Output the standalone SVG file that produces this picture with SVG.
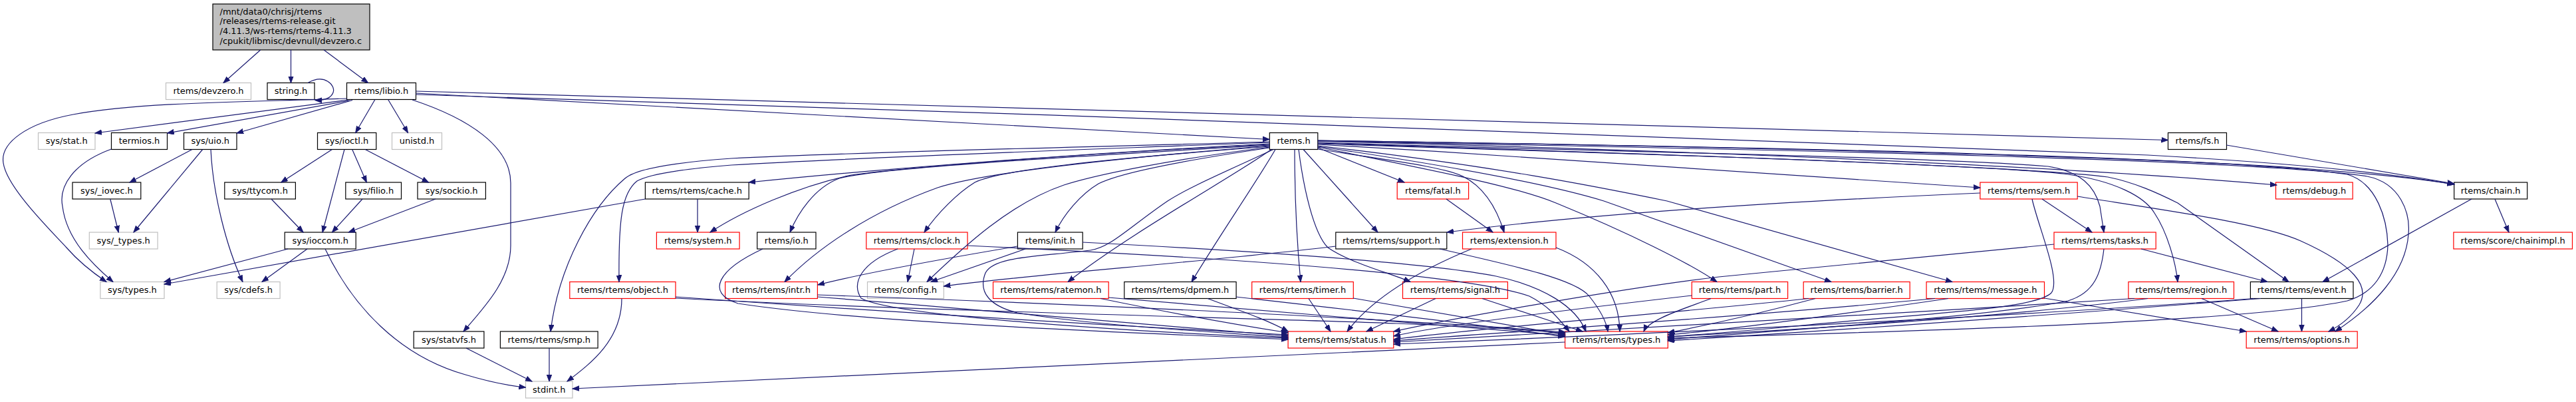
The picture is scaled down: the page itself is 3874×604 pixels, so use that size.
<svg xmlns="http://www.w3.org/2000/svg" width="3874" height="604" viewBox="0 0 3874 604">
<style>
rect{fill:#fff;stroke:#000;stroke-width:1.2}
.g rect{stroke:#bfbfbf}
.r rect{stroke:#ff0000}
.m rect{fill:#bfbfbf}
text{font-family:"DejaVu Sans","Liberation Sans",sans-serif;font-size:13px;fill:#000;text-anchor:middle}
.m text{text-anchor:start}
#edges path{fill:none;stroke:#191970;stroke-width:1.2;marker-end:url(#a)}
</style>
<defs>
<marker id="a" markerWidth="11" markerHeight="9" refX="10" refY="4" orient="auto" markerUnits="userSpaceOnUse"><path d="M0,0.3 L10,4 L0,7.7 z" fill="#191970" stroke="#191970" stroke-width="1"/></marker>
</defs>
<rect x="0" y="0" width="3874" height="604" style="fill:#fff;stroke:none"/>
<g id="nodes">
<g id="n0" class="m"><rect x="320" y="6" width="236" height="69"/><text x="330.5" y="21.5">/mnt/data0/chrisj/rtems</text><text x="330.5" y="36.2">/releases/rtems-release.git</text><text x="330.5" y="50.9">/4.11.3/ws-rtems/rtems-4.11.3</text><text x="330.5" y="65.6">/cpukit/libmisc/devnull/devzero.c</text></g>
<g id="n1" class="g"><rect x="249.5" y="124.5" width="128" height="25"/><text x="313.5" y="141.3">rtems/devzero.h</text></g>
<g id="n2"><rect x="402" y="124.5" width="71" height="25"/><text x="437.5" y="141.3">string.h</text></g>
<g id="n3"><rect x="521.5" y="124.5" width="104" height="25"/><text x="573.5" y="141.3">rtems/libio.h</text></g>
<g id="n4" class="g"><rect x="57.5" y="199.5" width="85.5" height="25"/><text x="100.25" y="216.3">sys/stat.h</text></g>
<g id="n5"><rect x="167.5" y="199.5" width="84" height="25"/><text x="209.5" y="216.3">termios.h</text></g>
<g id="n6"><rect x="276.5" y="199.5" width="79.5" height="25"/><text x="316.25" y="216.3">sys/uio.h</text></g>
<g id="n7"><rect x="477.5" y="199.5" width="88.3" height="25"/><text x="521.65" y="216.3">sys/ioctl.h</text></g>
<g id="n8" class="g"><rect x="589.5" y="199.5" width="75" height="25"/><text x="627" y="216.3">unistd.h</text></g>
<g id="n9"><rect x="1909.3" y="199.5" width="72.5" height="25"/><text x="1945.55" y="216.3">rtems.h</text></g>
<g id="n10"><rect x="3260.5" y="199.5" width="88" height="25"/><text x="3304.5" y="216.3">rtems/fs.h</text></g>
<g id="n11"><rect x="109" y="274" width="102.8" height="25"/><text x="160.4" y="290.8">sys/_iovec.h</text></g>
<g id="n12"><rect x="337.8" y="274" width="106.6" height="25"/><text x="391.1" y="290.8">sys/ttycom.h</text></g>
<g id="n13"><rect x="519.8" y="274" width="83.7" height="25"/><text x="561.65" y="290.8">sys/filio.h</text></g>
<g id="n14"><rect x="628" y="274" width="102.4" height="25"/><text x="679.2" y="290.8">sys/sockio.h</text></g>
<g id="n15"><rect x="970.4" y="274" width="155.8" height="25"/><text x="1048.3" y="290.8">rtems/rtems/cache.h</text></g>
<g id="n16" class="r"><rect x="2101.2" y="274" width="107.4" height="25"/><text x="2154.9" y="290.8">rtems/fatal.h</text></g>
<g id="n17" class="r"><rect x="2977.9" y="274" width="146.3" height="25"/><text x="3051.05" y="290.8">rtems/rtems/sem.h</text></g>
<g id="n18" class="r"><rect x="3422.5" y="274" width="115.7" height="25"/><text x="3480.35" y="290.8">rtems/debug.h</text></g>
<g id="n19"><rect x="3690.7" y="274" width="110" height="25"/><text x="3745.7" y="290.8">rtems/chain.h</text></g>
<g id="n20" class="g"><rect x="134.3" y="349" width="102.8" height="25"/><text x="185.7" y="365.8">sys/_types.h</text></g>
<g id="n21"><rect x="428.2" y="349" width="107" height="25"/><text x="481.7" y="365.8">sys/ioccom.h</text></g>
<g id="n22" class="r"><rect x="987.4" y="349" width="124.7" height="25"/><text x="1049.75" y="365.8">rtems/system.h</text></g>
<g id="n23"><rect x="1138.7" y="349" width="88.3" height="25"/><text x="1182.85" y="365.8">rtems/io.h</text></g>
<g id="n24" class="r"><rect x="1302.8" y="349" width="152.2" height="25"/><text x="1378.9" y="365.8">rtems/rtems/clock.h</text></g>
<g id="n25"><rect x="1530.4" y="349" width="97.8" height="25"/><text x="1579.3" y="365.8">rtems/init.h</text></g>
<g id="n26"><rect x="2008.8" y="349" width="167" height="25"/><text x="2092.3" y="365.8">rtems/rtems/support.h</text></g>
<g id="n27" class="r"><rect x="2199.5" y="349" width="140.5" height="25"/><text x="2269.75" y="365.8">rtems/extension.h</text></g>
<g id="n28" class="r"><rect x="3089" y="349" width="153.2" height="25"/><text x="3165.6" y="365.8">rtems/rtems/tasks.h</text></g>
<g id="n29" class="r"><rect x="3689.9" y="349" width="178.6" height="25"/><text x="3779.2" y="365.8">rtems/score/chainimpl.h</text></g>
<g id="n30" class="g"><rect x="150.9" y="423.5" width="96.1" height="25"/><text x="198.95" y="440.3">sys/types.h</text></g>
<g id="n31" class="g"><rect x="326.2" y="423.5" width="94.9" height="25"/><text x="373.65" y="440.3">sys/cdefs.h</text></g>
<g id="n32" class="r"><rect x="856.8" y="423.5" width="159.2" height="25"/><text x="936.4" y="440.3">rtems/rtems/object.h</text></g>
<g id="n33" class="r"><rect x="1090.6" y="423.5" width="138.8" height="25"/><text x="1160" y="440.3">rtems/rtems/intr.h</text></g>
<g id="n34" class="g"><rect x="1304.5" y="423.5" width="114.8" height="25"/><text x="1361.9" y="440.3">rtems/config.h</text></g>
<g id="n35" class="r"><rect x="1493.5" y="423.5" width="173.7" height="25"/><text x="1580.35" y="440.3">rtems/rtems/ratemon.h</text></g>
<g id="n36"><rect x="1690.8" y="423.5" width="168.3" height="25"/><text x="1774.95" y="440.3">rtems/rtems/dpmem.h</text></g>
<g id="n37" class="r"><rect x="1882.7" y="423.5" width="152.6" height="25"/><text x="1959" y="440.3">rtems/rtems/timer.h</text></g>
<g id="n38" class="r"><rect x="2109.5" y="423.5" width="157.9" height="25"/><text x="2188.45" y="440.3">rtems/rtems/signal.h</text></g>
<g id="n39" class="r"><rect x="2544.3" y="423.5" width="144.3" height="25"/><text x="2616.45" y="440.3">rtems/rtems/part.h</text></g>
<g id="n40" class="r"><rect x="2712.2" y="423.5" width="160" height="25"/><text x="2792.2" y="440.3">rtems/rtems/barrier.h</text></g>
<g id="n41" class="r"><rect x="2897.1" y="423.5" width="177.4" height="25"/><text x="2985.8" y="440.3">rtems/rtems/message.h</text></g>
<g id="n42" class="r"><rect x="3200.9" y="423.5" width="158.6" height="25"/><text x="3280.2" y="440.3">rtems/rtems/region.h</text></g>
<g id="n43"><rect x="3384.4" y="423.5" width="154.6" height="25"/><text x="3461.7" y="440.3">rtems/rtems/event.h</text></g>
<g id="n44"><rect x="622.2" y="498" width="105.7" height="25"/><text x="675.05" y="514.8">sys/statvfs.h</text></g>
<g id="n45"><rect x="752.4" y="498" width="146.7" height="25"/><text x="825.75" y="514.8">rtems/rtems/smp.h</text></g>
<g id="n46" class="r"><rect x="1937.1" y="498" width="158.7" height="25"/><text x="2016.45" y="514.8">rtems/rtems/status.h</text></g>
<g id="n47" class="r"><rect x="2353.6" y="498" width="154.7" height="25"/><text x="2430.95" y="514.8">rtems/rtems/types.h</text></g>
<g id="n48" class="r"><rect x="3378.2" y="498" width="167" height="25"/><text x="3461.7" y="514.8">rtems/rtems/options.h</text></g>
<g id="n49" class="g"><rect x="790.5" y="573" width="70.5" height="25"/><text x="825.75" y="589.8">stdint.h</text></g>
</g>
<g id="edges">
<path d="M391.7,75 L336,124.5"/>
<path d="M437.5,75 L437.5,124.5"/>
<path d="M487,75 L553.5,124.5"/>
<path d="M463,124.5 C488,110 505,128 501,139 C498,147 490,151 474,150.5"/>
<path d="M521.5,148 C400,153 220,152 110,172 C40,185 0,215 5,245 C10,280 70,340 100,372 C120,395 140,410 160,423.5"/>
<path d="M524,150 L143,200"/>
<path d="M526,151 L251.5,200"/>
<path d="M530,150.5 L356,200"/>
<path d="M564,149.5 L534.7,199.5"/>
<path d="M583.6,149.5 L613.5,199.5"/>
<path d="M625.5,140 L1909.3,209.5"/>
<path d="M625.5,137 L3260.5,210.5"/>
<path d="M625.5,142 C1500,170 2800,212 3230,233 C3500,248 3620,265 3690.7,277"/>
<path d="M620,150 C705,178 768,220 768,275 L768,369 C768,420 730,460 697,498"/>
<path d="M289,224.5 L195,274"/>
<path d="M304.7,224.5 L201,349"/>
<path d="M317,224.5 C320,290 340,370 365,423.5"/>
<path d="M165.8,299 L178.2,349"/>
<path d="M167.5,224 C110,245 88,280 94,310 C100,360 140,398 170,423.5"/>
<path d="M499.5,224.5 L422.8,274"/>
<path d="M518,224.5 L485,349"/>
<path d="M529.7,224.5 L551.3,274"/>
<path d="M549.2,224.5 L644.5,274"/>
<path d="M408,299 L456,349"/>
<path d="M545,299 L499.5,349"/>
<path d="M655,299 L524.3,349"/>
<path d="M433,374 L247,423.5"/>
<path d="M462,374 L394,423.5"/>
<path d="M489,374 C530,460 600,535 700,563 C740,575 770,580 790.5,582"/>
<path d="M970.4,299 L247,427"/>
<path d="M1049,299 L1049,349"/>
<path d="M701,523 L800,573"/>
<path d="M826,523 L826,573"/>
<path d="M935,448.5 C935,510 890,545 853,573"/>
<path d="M2353.6,514 L861,584"/>
<path d="M1909.3,216 C1600,232 1300,256 1126.2,274"/>
<path d="M1909.3,213 C1600,222 1300,228 1100,238 C1000,245 955,255 940,268 C890,310 840,400 828,498"/>
<path d="M1909.3,214 C1600,226 1300,236 1100,248 C1000,256 970,265 958,272 C935,290 930,330 931,423.5"/>
<path d="M1909.3,217 C1600,232 1360,252 1280,263 C1200,280 1115,318 1068,349"/>
<path d="M1909.3,218 C1600,236 1320,252 1262,268 C1225,282 1200,320 1188,349"/>
<path d="M1909.3,219 C1650,240 1470,262 1410,282 C1310,318 1230,372 1180,423.5"/>
<path d="M1909.3,220 C1650,240 1500,256 1466,274 C1440,290 1410,320 1390,349"/>
<path d="M1909.3,221 C1760,240 1650,262 1600,278 C1520,305 1450,370 1394,423.5"/>
<path d="M1909.3,222 C1760,244 1680,262 1652,276 C1625,292 1600,322 1587,349"/>
<path d="M1912,224.5 C1860,262 1700,350 1606,423.5"/>
<path d="M1915,224.5 C1850,255 1790,280 1756,302 C1700,340 1670,372 1640,376 C1560,386 1495,385 1482,410 C1470,440 1490,460 1530,470 C1650,490 1850,500 1937,507"/>
<path d="M1918,224.5 C1895,265 1830,360 1792,423.5"/>
<path d="M1947,224.5 C1947,300 1950,360 1956,423.5"/>
<path d="M1953,224.5 C1960,280 1975,350 1997,372 C2030,395 2090,410 2121,423.5"/>
<path d="M1960,224.5 L2072,349"/>
<path d="M1981.8,222 L2112,274"/>
<path d="M1981.8,224 C2080,240 2170,250 2200,265 C2230,280 2250,310 2262,349"/>
<path d="M1981.8,221 C2150,255 2280,280 2340,305 C2450,350 2540,395 2582,423.5"/>
<path d="M1981.8,220 C2200,252 2340,280 2412,302 L2754,423.5"/>
<path d="M1981.8,219 C2250,250 2400,280 2507,302 L2936,423.5"/>
<path d="M1981.8,217 C2300,235 2600,256 2978,282"/>
<path d="M1981.8,214 C2400,228 2900,235 3080,250 C3130,258 3150,280 3158,310 L3164,349"/>
<path d="M1981.8,215 C2500,232 3050,250 3170,266 C3210,274 3245,290 3275,305 L3442,423.5"/>
<path d="M1981.8,216 C2500,232 3000,248 3110,262 C3180,272 3225,295 3240,320 C3260,350 3272,395 3275,423.5"/>
<path d="M1981.8,212 C2600,228 3100,250 3424,278"/>
<path d="M1981.8,211 C2600,220 3200,235 3450,252 C3580,262 3650,270 3691,277"/>
<path d="M1981.8,212 C2700,225 3400,240 3560,265 C3610,275 3625,320 3622,352 C3618,410 3570,460 3512,498"/>
<path d="M1981.8,211 C2700,222 3350,235 3530,262 C3575,275 3590,330 3591,368 C3590,410 3570,440 3530,452 C3400,480 3000,495 2508.3,508"/>
<path d="M3348.4,218 L3690.7,276"/>
<path d="M3717,299 L3493,423.5"/>
<path d="M3752,299 L3773,349"/>
<path d="M2175,299 L2245,349"/>
<path d="M2978,290 C2700,302 2400,320 2176,349"/>
<path d="M3071,299 L3146,349"/>
<path d="M3124,295 C3250,315 3400,335 3460,362 C3540,398 3565,430 3548,458 C3535,478 3518,490 3502,498"/>
<path d="M3056,299 C3065,340 3100,420 3085,440 C3060,465 2900,470 2700,490 C2620,498 2550,503 2508.3,506"/>
<path d="M3089,367 L2585,416 C2450,432 2200,475 2096,498"/>
<path d="M3164,374 C3160,410 3150,440 3110,452 C3000,475 2700,495 2508.3,510"/>
<path d="M3220,374 L3410,423.5"/>
<path d="M2544.3,444 C2300,472 2150,492 2096,505"/>
<path d="M2573,448.5 C2530,465 2480,480 2472,498"/>
<path d="M2720,448.5 C2500,472 2200,495 2096,510"/>
<path d="M2730,448.5 C2650,470 2560,490 2508.3,500"/>
<path d="M2910,448.5 C2600,478 2250,500 2096,512"/>
<path d="M2930,448.5 C2750,475 2600,495 2508.3,503"/>
<path d="M3074.5,448 L3378,498"/>
<path d="M3210,448.5 C2800,475 2300,500 2096,514"/>
<path d="M3230,448.5 C3000,478 2700,495 2508.3,506"/>
<path d="M3311,448.5 L3426,498"/>
<path d="M3461.5,448.5 L3461.5,498"/>
<path d="M3390,448.5 C3000,478 2400,505 2096,517"/>
<path d="M3400,448.5 C3000,480 2700,500 2508.3,512"/>
<path d="M1816,448.5 C1860,465 1905,480 1937.1,498"/>
<path d="M1859,446 C2000,462 2250,490 2353.6,506"/>
<path d="M1655,448.5 C1750,468 1860,488 1937.1,500"/>
<path d="M1667,447 C1850,462 2150,488 2353.6,504"/>
<path d="M1147,374 C1080,405 1060,440 1110,456 C1300,485 1700,500 1937.1,510"/>
<path d="M1016,446 C1100,452 1500,480 1937.1,503"/>
<path d="M1016,448 C1400,468 1900,478 2100,486 C2250,492 2320,497 2353.6,501"/>
<path d="M1229.4,446 C1500,468 1800,492 1937.1,505"/>
<path d="M1229.4,443 C1700,460 2100,480 2353.6,499"/>
<path d="M1350,374 C1295,395 1280,425 1295,448 C1340,475 1700,498 1937.1,508"/>
<path d="M1455,369 C1800,385 2200,410 2300,445 C2330,460 2345,480 2360,498"/>
<path d="M1375,374 L1365,423.5"/>
<path d="M1542,374 L1400,423.5"/>
<path d="M1530.4,370 C1400,392 1300,410 1230,428"/>
<path d="M1628.2,364 C1900,378 2150,395 2250,415 C2320,430 2370,460 2385,498"/>
<path d="M2008.8,370 C1800,395 1550,412 1419.3,430"/>
<path d="M2165,374 C2280,400 2370,420 2390,445 C2410,470 2416,485 2418,498"/>
<path d="M2213,374 C2150,400 2070,440 2026,498"/>
<path d="M2340,372 C2400,395 2435,440 2436,498"/>
<path d="M1968,448.5 L2001,498"/>
<path d="M2035,448 L2353.6,503"/>
<path d="M2159,448.5 L2055,498"/>
<path d="M2229,448.5 L2380,498"/>
</g>
</svg>
